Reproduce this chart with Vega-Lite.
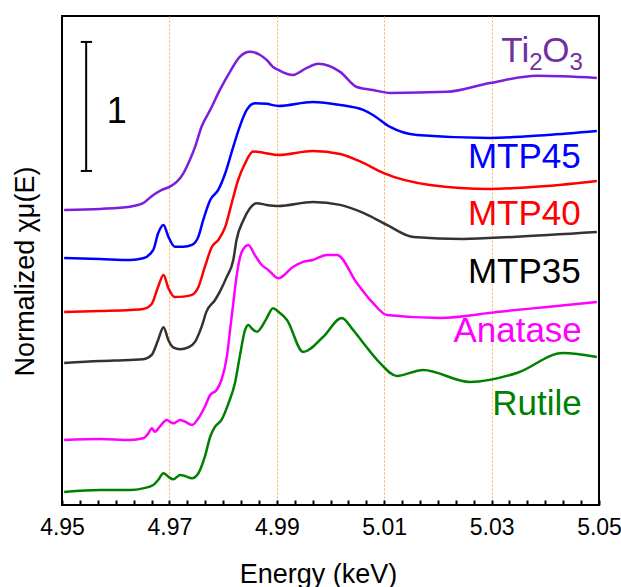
{
  "$schema": "https://vega.github.io/schema/vega-lite/v6.json",
  "width": 537,
  "height": 489,
  "autosize": "none",
  "padding": {"left": 62, "top": 16, "right": 22, "bottom": 82},
  "background": "white",
  "config": {
    "view": {"stroke": "#000000", "strokeWidth": 2},
    "font": "Liberation Sans"
  },
  "datasets": {
    "curves": [
      {"s":"Ti2O3","e":4.9504,"v":2.287},{"s":"Ti2O3","e":4.9571,"v":2.295},{"s":"Ti2O3","e":4.9627,"v":2.312},{"s":"Ti2O3","e":4.9651,"v":2.339},{"s":"Ti2O3","e":4.9670,"v":2.403},{"s":"Ti2O3","e":4.9686,"v":2.442},{"s":"Ti2O3","e":4.9701,"v":2.467},{"s":"Ti2O3","e":4.9714,"v":2.506},{"s":"Ti2O3","e":4.9726,"v":2.571},{"s":"Ti2O3","e":4.9738,"v":2.674},{"s":"Ti2O3","e":4.9748,"v":2.778},{"s":"Ti2O3","e":4.9760,"v":2.933},{"s":"Ti2O3","e":4.9776,"v":3.062},{"s":"Ti2O3","e":4.9794,"v":3.217},{"s":"Ti2O3","e":4.9813,"v":3.359},{"s":"Ti2O3","e":4.9831,"v":3.473},{"s":"Ti2O3","e":4.9850,"v":3.512},{"s":"Ti2O3","e":4.9869,"v":3.488},{"s":"Ti2O3","e":4.9881,"v":3.450},{"s":"Ti2O3","e":4.9893,"v":3.395},{"s":"Ti2O3","e":4.9903,"v":3.372},{"s":"Ti2O3","e":4.9930,"v":3.333},{"s":"Ti2O3","e":4.9956,"v":3.388},{"s":"Ti2O3","e":4.9977,"v":3.419},{"s":"Ti2O3","e":5.0018,"v":3.357},{"s":"Ti2O3","e":5.0049,"v":3.240},{"s":"Ti2O3","e":5.0079,"v":3.217},{"s":"Ti2O3","e":5.0111,"v":3.194},{"s":"Ti2O3","e":5.0217,"v":3.202},{"s":"Ti2O3","e":5.0297,"v":3.271},{"s":"Ti2O3","e":5.0385,"v":3.326},{"s":"Ti2O3","e":5.0496,"v":3.310},
      {"s":"MTP45","e":4.9504,"v":1.915},{"s":"MTP45","e":4.9571,"v":1.907},{"s":"MTP45","e":4.9627,"v":1.899},{"s":"MTP45","e":4.9651,"v":1.912},{"s":"MTP45","e":4.9670,"v":1.977},{"s":"MTP45","e":4.9679,"v":2.106},{"s":"MTP45","e":4.9689,"v":2.171},{"s":"MTP45","e":4.9698,"v":2.080},{"s":"MTP45","e":4.9710,"v":2.002},{"s":"MTP45","e":4.9726,"v":2.002},{"s":"MTP45","e":4.9742,"v":2.016},{"s":"MTP45","e":4.9754,"v":2.080},{"s":"MTP45","e":4.9763,"v":2.209},{"s":"MTP45","e":4.9776,"v":2.364},{"s":"MTP45","e":4.9791,"v":2.442},{"s":"MTP45","e":4.9804,"v":2.571},{"s":"MTP45","e":4.9819,"v":2.778},{"s":"MTP45","e":4.9831,"v":2.933},{"s":"MTP45","e":4.9844,"v":3.062},{"s":"MTP45","e":4.9859,"v":3.114},{"s":"MTP45","e":4.9881,"v":3.109},{"s":"MTP45","e":4.9903,"v":3.093},{"s":"MTP45","e":4.9967,"v":3.124},{"s":"MTP45","e":5.0018,"v":3.101},{"s":"MTP45","e":5.0061,"v":3.062},{"s":"MTP45","e":5.0079,"v":3.023},{"s":"MTP45","e":5.0111,"v":2.930},{"s":"MTP45","e":5.0161,"v":2.868},{"s":"MTP45","e":5.0297,"v":2.845},{"s":"MTP45","e":5.0403,"v":2.868},{"s":"MTP45","e":5.0496,"v":2.899},
      {"s":"MTP40","e":4.9504,"v":1.496},{"s":"MTP40","e":4.9571,"v":1.504},{"s":"MTP40","e":4.9627,"v":1.512},{"s":"MTP40","e":4.9651,"v":1.519},{"s":"MTP40","e":4.9667,"v":1.558},{"s":"MTP40","e":4.9679,"v":1.692},{"s":"MTP40","e":4.9689,"v":1.783},{"s":"MTP40","e":4.9698,"v":1.682},{"s":"MTP40","e":4.9710,"v":1.612},{"s":"MTP40","e":4.9726,"v":1.615},{"s":"MTP40","e":4.9742,"v":1.628},{"s":"MTP40","e":4.9754,"v":1.690},{"s":"MTP40","e":4.9766,"v":1.845},{"s":"MTP40","e":4.9779,"v":2.000},{"s":"MTP40","e":4.9791,"v":2.054},{"s":"MTP40","e":4.9804,"v":2.155},{"s":"MTP40","e":4.9816,"v":2.339},{"s":"MTP40","e":4.9828,"v":2.519},{"s":"MTP40","e":4.9841,"v":2.649},{"s":"MTP40","e":4.9856,"v":2.739},{"s":"MTP40","e":4.9875,"v":2.731},{"s":"MTP40","e":4.9903,"v":2.713},{"s":"MTP40","e":4.9967,"v":2.744},{"s":"MTP40","e":5.0018,"v":2.721},{"s":"MTP40","e":5.0061,"v":2.651},{"s":"MTP40","e":5.0098,"v":2.574},{"s":"MTP40","e":5.0185,"v":2.481},{"s":"MTP40","e":5.0297,"v":2.450},{"s":"MTP40","e":5.0403,"v":2.473},{"s":"MTP40","e":5.0496,"v":2.512},
      {"s":"MTP35","e":4.9504,"v":1.101},{"s":"MTP35","e":4.9571,"v":1.116},{"s":"MTP35","e":4.9627,"v":1.124},{"s":"MTP35","e":4.9651,"v":1.129},{"s":"MTP35","e":4.9667,"v":1.163},{"s":"MTP35","e":4.9679,"v":1.279},{"s":"MTP35","e":4.9689,"v":1.378},{"s":"MTP35","e":4.9698,"v":1.279},{"s":"MTP35","e":4.9707,"v":1.222},{"s":"MTP35","e":4.9720,"v":1.207},{"s":"MTP35","e":4.9735,"v":1.222},{"s":"MTP35","e":4.9748,"v":1.266},{"s":"MTP35","e":4.9760,"v":1.382},{"s":"MTP35","e":4.9769,"v":1.499},{"s":"MTP35","e":4.9785,"v":1.589},{"s":"MTP35","e":4.9794,"v":1.654},{"s":"MTP35","e":4.9807,"v":1.770},{"s":"MTP35","e":4.9819,"v":1.899},{"s":"MTP35","e":4.9825,"v":2.054},{"s":"MTP35","e":4.9838,"v":2.209},{"s":"MTP35","e":4.9850,"v":2.300},{"s":"MTP35","e":4.9863,"v":2.339},{"s":"MTP35","e":4.9881,"v":2.326},{"s":"MTP35","e":4.9903,"v":2.318},{"s":"MTP35","e":4.9967,"v":2.349},{"s":"MTP35","e":5.0018,"v":2.326},{"s":"MTP35","e":5.0061,"v":2.264},{"s":"MTP35","e":5.0105,"v":2.171},{"s":"MTP35","e":5.0154,"v":2.078},{"s":"MTP35","e":5.0247,"v":2.062},{"s":"MTP35","e":5.0340,"v":2.078},{"s":"MTP35","e":5.0496,"v":2.116},
      {"s":"Anatase","e":4.9504,"v":0.504},{"s":"Anatase","e":4.9571,"v":0.512},{"s":"Anatase","e":4.9627,"v":0.504},{"s":"Anatase","e":4.9651,"v":0.517},{"s":"Anatase","e":4.9661,"v":0.556},{"s":"Anatase","e":4.9667,"v":0.595},{"s":"Anatase","e":4.9673,"v":0.568},{"s":"Anatase","e":4.9682,"v":0.607},{"s":"Anatase","e":4.9695,"v":0.659},{"s":"Anatase","e":4.9707,"v":0.633},{"s":"Anatase","e":4.9720,"v":0.659},{"s":"Anatase","e":4.9729,"v":0.646},{"s":"Anatase","e":4.9742,"v":0.620},{"s":"Anatase","e":4.9754,"v":0.672},{"s":"Anatase","e":4.9766,"v":0.762},{"s":"Anatase","e":4.9776,"v":0.853},{"s":"Anatase","e":4.9788,"v":0.891},{"s":"Anatase","e":4.9797,"v":0.969},{"s":"Anatase","e":4.9807,"v":1.150},{"s":"Anatase","e":4.9813,"v":1.357},{"s":"Anatase","e":4.9819,"v":1.564},{"s":"Anatase","e":4.9825,"v":1.770},{"s":"Anatase","e":4.9835,"v":1.964},{"s":"Anatase","e":4.9847,"v":2.016},{"s":"Anatase","e":4.9859,"v":1.938},{"s":"Anatase","e":4.9872,"v":1.860},{"s":"Anatase","e":4.9884,"v":1.822},{"s":"Anatase","e":4.9903,"v":1.757},{"s":"Anatase","e":4.9930,"v":1.845},{"s":"Anatase","e":4.9949,"v":1.884},{"s":"Anatase","e":4.9967,"v":1.899},{"s":"Anatase","e":4.9993,"v":1.938},{"s":"Anatase","e":5.0012,"v":1.938},{"s":"Anatase","e":5.0049,"v":1.721},{"s":"Anatase","e":5.0079,"v":1.566},{"s":"Anatase","e":5.0105,"v":1.473},{"s":"Anatase","e":5.0204,"v":1.450},{"s":"Anatase","e":5.0310,"v":1.496},{"s":"Anatase","e":5.0403,"v":1.535},{"s":"Anatase","e":5.0496,"v":1.574},
      {"s":"Rutile","e":4.9504,"v":0.101},{"s":"Rutile","e":4.9571,"v":0.116},{"s":"Rutile","e":4.9627,"v":0.116},{"s":"Rutile","e":4.9651,"v":0.129},{"s":"Rutile","e":4.9670,"v":0.155},{"s":"Rutile","e":4.9679,"v":0.194},{"s":"Rutile","e":4.9689,"v":0.246},{"s":"Rutile","e":4.9698,"v":0.219},{"s":"Rutile","e":4.9707,"v":0.199},{"s":"Rutile","e":4.9720,"v":0.233},{"s":"Rutile","e":4.9729,"v":0.225},{"s":"Rutile","e":4.9742,"v":0.207},{"s":"Rutile","e":4.9754,"v":0.246},{"s":"Rutile","e":4.9766,"v":0.374},{"s":"Rutile","e":4.9776,"v":0.529},{"s":"Rutile","e":4.9785,"v":0.607},{"s":"Rutile","e":4.9797,"v":0.659},{"s":"Rutile","e":4.9810,"v":0.788},{"s":"Rutile","e":4.9822,"v":0.943},{"s":"Rutile","e":4.9831,"v":1.150},{"s":"Rutile","e":4.9841,"v":1.357},{"s":"Rutile","e":4.9847,"v":1.395},{"s":"Rutile","e":4.9853,"v":1.370},{"s":"Rutile","e":4.9863,"v":1.343},{"s":"Rutile","e":4.9872,"v":1.382},{"s":"Rutile","e":4.9881,"v":1.447},{"s":"Rutile","e":4.9893,"v":1.525},{"s":"Rutile","e":4.9903,"v":1.498},{"s":"Rutile","e":4.9919,"v":1.434},{"s":"Rutile","e":4.9949,"v":1.186},{"s":"Rutile","e":4.9986,"v":1.302},{"s":"Rutile","e":5.0021,"v":1.450},{"s":"Rutile","e":5.0042,"v":1.357},{"s":"Rutile","e":5.0061,"v":1.256},{"s":"Rutile","e":5.0092,"v":1.101},{"s":"Rutile","e":5.0124,"v":1.000},{"s":"Rutile","e":5.0172,"v":1.047},{"s":"Rutile","e":5.0260,"v":0.953},{"s":"Rutile","e":5.0347,"v":1.023},{"s":"Rutile","e":5.0433,"v":1.178},{"s":"Rutile","e":5.0496,"v":1.147}
    ],
    "labels": [
      {"s":"MTP45","t":"MTP45","e":5.0466,"v":2.612},
      {"s":"MTP40","t":"MTP40","e":5.0466,"v":2.171},
      {"s":"MTP35","t":"MTP35","e":5.0466,"v":1.721},
      {"s":"Anatase","t":"Anatase","e":5.0468,"v":1.264},
      {"s":"Rutile","t":"Rutile","e":5.0468,"v":0.698}
    ],
    "formulaMain": [
      {"t":"Ti","e":5.0370,"v":3.434},
      {"t":"O","e":5.0445,"v":3.434}
    ],
    "formulaSub": [
      {"t":"2","e":5.0395,"v":3.372},
      {"t":"3","e":5.0470,"v":3.372}
    ],
    "bar": [{"e":4.9545,"v":3.589,"v2":2.589}],
    "caps": [{"e":4.9535,"e2":4.9556,"v":3.589},{"e":4.9535,"e2":4.9556,"v":2.589}],
    "barlabel": [{"e":4.9602,"v":2.961,"t":"1"}]
  },
  "layer": [
    {
      "data": {"name": "curves"},
      "mark": {"type": "line", "strokeWidth": 2.5, "interpolate": "monotone"},
      "encoding": {
        "x": {
          "field": "e", "type": "quantitative",
          "scale": {"domain": [4.95, 5.05], "nice": false, "zero": false},
          "axis": {
            "title": "Energy (keV)",
            "tickCount": 100,
            "values": [4.95,4.95333,4.95667,4.96,4.96333,4.96667,4.97,4.97333,4.97667,4.98,4.98333,4.98667,4.99,4.99333,4.99667,5.0,5.00333,5.00667,5.01,5.01333,5.01667,5.02,5.02333,5.02667,5.03,5.03333,5.03667,5.04,5.04333,5.04667,5.05],
            "labelExpr": "indexof([4.95,4.97,4.99,5.01,5.03,5.05], datum.value) >= 0 ? format(datum.value,'.2f') : ''",
            "labelFont": "Liberation Sans",
            "labelFontSize": 23,
            "labelColor": "#000000",
            "labelPadding": 16,
            "labelOverlap": false,
            "labelFlush": false,
            "domain": false,
            "ticks": true,
            "tickColor": "#000000",
            "tickWidth": 2,
            "tickSize": -5,
            "grid": true,
            "gridColor": "#FFB347",
            "gridWidth": 1,
            "gridDash": [2, 2],
            "gridOpacity": {"condition": {"test": "indexof([4.97,4.99,5.01,5.03], datum.value) >= 0", "value": 1}, "value": 0},
            "titleFont": "Liberation Sans",
            "titleFontSize": 27,
            "titleFontWeight": "normal",
            "titleColor": "#000000",
            "titleX": 256,
            "titleY": 77,
            "titleBaseline": "alphabetic"
          }
        },
        "y": {
          "field": "v", "type": "quantitative",
          "scale": {"domain": [0, 3.79], "nice": false, "zero": false},
          "axis": {
            "title": "Normalized χμ(E)",
            "labels": false, "ticks": false, "domain": false, "grid": false,
            "titleFont": "Liberation Sans",
            "titleFontSize": 27,
            "titleFontWeight": "normal",
            "titleColor": "#000000",
            "titleX": -29,
            "titleY": 255,
            "titleBaseline": "alphabetic"
          }
        },
        "color": {
          "field": "s", "type": "nominal",
          "scale": {"domain": ["Ti2O3","MTP45","MTP40","MTP35","Anatase","Rutile"], "range": ["#7A1EDC","#0000FF","#FF0000","#333333","#FF00FF","#008000"]},
          "legend": null
        }
      }
    },
    {
      "data": {"name": "labels"},
      "mark": {"type": "text", "align": "right", "baseline": "alphabetic", "fontSize": 35, "font": "Liberation Sans"},
      "encoding": {
        "x": {"field": "e", "type": "quantitative", "scale": {"domain": [4.95, 5.05], "nice": false, "zero": false}},
        "y": {"field": "v", "type": "quantitative", "scale": {"domain": [0, 3.79], "nice": false, "zero": false}},
        "text": {"field": "t"},
        "color": {
          "field": "s", "type": "nominal",
          "scale": {"domain": ["Ti2O3","MTP45","MTP40","MTP35","Anatase","Rutile"], "range": ["#7030A0","#0000FF","#FF0000","#000000","#FF00FF","#008000"]},
          "legend": null
        }
      }
    },
    {
      "data": {"name": "formulaMain"},
      "mark": {"type": "text", "align": "right", "baseline": "alphabetic", "fontSize": 35, "font": "Liberation Sans", "color": "#7030A0"},
      "encoding": {
        "x": {"field": "e", "type": "quantitative", "scale": {"domain": [4.95, 5.05], "nice": false, "zero": false}},
        "y": {"field": "v", "type": "quantitative", "scale": {"domain": [0, 3.79], "nice": false, "zero": false}},
        "text": {"field": "t"}
      }
    },
    {
      "data": {"name": "formulaSub"},
      "mark": {"type": "text", "align": "right", "baseline": "alphabetic", "fontSize": 24, "font": "Liberation Sans", "color": "#7030A0"},
      "encoding": {
        "x": {"field": "e", "type": "quantitative", "scale": {"domain": [4.95, 5.05], "nice": false, "zero": false}},
        "y": {"field": "v", "type": "quantitative", "scale": {"domain": [0, 3.79], "nice": false, "zero": false}},
        "text": {"field": "t"}
      }
    },
    {
      "data": {"name": "bar"},
      "mark": {"type": "rule", "strokeWidth": 2, "color": "#000000"},
      "encoding": {
        "x": {"field": "e", "type": "quantitative", "scale": {"domain": [4.95, 5.05], "nice": false, "zero": false}},
        "y": {"field": "v", "type": "quantitative", "scale": {"domain": [0, 3.79], "nice": false, "zero": false}},
        "y2": {"field": "v2"}
      }
    },
    {
      "data": {"name": "caps"},
      "mark": {"type": "rule", "strokeWidth": 2, "color": "#000000"},
      "encoding": {
        "x": {"field": "e", "type": "quantitative", "scale": {"domain": [4.95, 5.05], "nice": false, "zero": false}},
        "x2": {"field": "e2"},
        "y": {"field": "v", "type": "quantitative", "scale": {"domain": [0, 3.79], "nice": false, "zero": false}}
      }
    },
    {
      "data": {"name": "barlabel"},
      "mark": {"type": "text", "align": "center", "baseline": "alphabetic", "fontSize": 36, "font": "Liberation Sans", "color": "#000000"},
      "encoding": {
        "x": {"field": "e", "type": "quantitative", "scale": {"domain": [4.95, 5.05], "nice": false, "zero": false}},
        "y": {"field": "v", "type": "quantitative", "scale": {"domain": [0, 3.79], "nice": false, "zero": false}},
        "text": {"field": "t"}
      }
    }
  ],
  "resolve": {"scale": {"color": "independent"}}
}
